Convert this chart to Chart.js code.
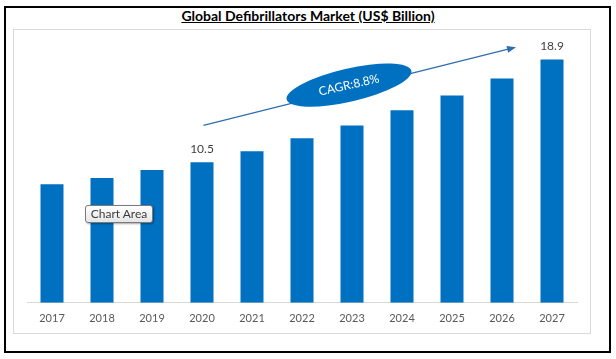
<!DOCTYPE html>
<html>
<head>
<meta charset="utf-8">
<script src="https://cdn.jsdelivr.net/npm/chart.js@4.4.0/dist/chart.umd.min.js"></script>
<style>
  body { margin: 0; background: #fff; }
  #wrap { position: relative; width: 616px; height: 359px; }
  #frame { position: absolute; left: 4px; top: 6px; width: 607px; height: 347px; border: 2px solid #000; box-sizing: border-box; }
  #inner { position: absolute; left: 13px; top: 29px; width: 578px; height: 305px; border: 1px solid #d9d9d9; box-sizing: border-box; }
  #title { position: absolute; left: 0; top: 7px; width: 616px; text-align: center; font: bold 14px Lato, sans-serif; color: #000; text-decoration: underline; }
  #chart { position: absolute; left: 0; top: 0; }
  #tip { position: absolute; left: 85px; top: 205px; width: 68px; height: 18px; box-sizing: border-box;
         border: 1px solid #7a7a7a; border-radius: 3px; background: linear-gradient(#ffffff, #e6e6e6);
         box-shadow: 1px 1px 2px rgba(0,0,0,0.35); font: 12px Lato, sans-serif; color: #3c3c3c;
         text-align: center; line-height: 16px; }
</style>
</head>
<body>
<div id="wrap">
  <div id="frame"></div>
  <div id="inner"></div>
  <div id="title">Global Defibrillators Market (US$ Billion)</div>
  <canvas id="chart" width="616" height="359"></canvas>
  <div id="tip">Chart Area</div>
</div>
<script>
'use strict';

// data
const years = ['2017', '2018', '2019', '2020', '2021', '2022', '2023', '2024', '2025', '2026', '2027'];
const marketSize = [8.7, 9.2, 9.85, 10.5, 11.4, 12.45, 13.5, 14.75, 15.95, 17.35, 18.9];
const labelledYears = ['2020', '2027'];
const cagrText = 'CAGR:8.8%';

const barBlue = '#0070c0';

// value labels above selected bars
const valueLabels = {
    id: 'valueLabels',
    afterDatasetsDraw(chart) {
        const ctx = chart.ctx;
        const meta = chart.getDatasetMeta(0);
        ctx.save();
        ctx.font = '12px Lato, sans-serif';
        ctx.fillStyle = '#404040';
        ctx.textAlign = 'center';
        ctx.textBaseline = 'middle';
        years.forEach((y, i) => {
            if (!labelledYears.includes(y)) return;
            const bar = meta.data[i];
            ctx.fillText(marketSize[i].toFixed(1), bar.x, bar.y - 13);
        });
        ctx.restore();
    }
};

// growth arrow + CAGR ellipse
const cagrArrow = {
    id: 'cagrArrow',
    afterDatasetsDraw(chart) {
        const ctx = chart.ctx;
        const xs = chart.scales.x;
        const ys = chart.scales.y;
        const x1 = xs.getPixelForValue(3.03), y1 = ys.getPixelForValue(13.5);
        const x2 = xs.getPixelForValue(9.28), y2 = ys.getPixelForValue(19.9);
        const ang = Math.atan2(y2 - y1, x2 - x1);

        ctx.save();
        ctx.strokeStyle = '#2f6db3';
        ctx.fillStyle = '#2f6db3';
        ctx.lineWidth = 1.3;
        ctx.beginPath();
        ctx.moveTo(x1, y1);
        ctx.lineTo(x2 - 6 * Math.cos(ang), y2 - 6 * Math.sin(ang));
        ctx.stroke();
        // arrow head
        ctx.translate(x2, y2);
        ctx.rotate(ang);
        ctx.beginPath();
        ctx.moveTo(0, 0);
        ctx.lineTo(-9, -3.5);
        ctx.lineTo(-9, 3.5);
        ctx.closePath();
        ctx.fill();
        ctx.restore();

        // ellipse
        const cx = xs.getPixelForValue(5.94), cy = ys.getPixelForValue(16.8);
        const rot = -13 * Math.PI / 180;
        ctx.save();
        ctx.translate(cx, cy);
        ctx.rotate(rot);
        ctx.beginPath();
        ctx.ellipse(0, 0, 64, 16.5, 0, 0, Math.PI * 2);
        ctx.fillStyle = barBlue;
        ctx.fill();
        ctx.font = '12px Lato, sans-serif';
        ctx.fillStyle = '#ffffff';
        ctx.textAlign = 'center';
        ctx.textBaseline = 'middle';
        ctx.fillText(cagrText, 0, 0);
        ctx.restore();
    }
};

new Chart(document.getElementById('chart'), {
    type: 'bar',
    data: {
        labels: years,
        datasets: [{
            data: marketSize,
            backgroundColor: barBlue,
            base: -1,
            barPercentage: 0.46,
            categoryPercentage: 1
        }]
    },
    options: {
        responsive: false,
        animation: false,
        layout: { padding: { left: 27, right: 39, top: 46, bottom: 25 } },
        plugins: { legend: { display: false }, tooltip: { enabled: false } },
        scales: {
            x: {
                grid: { display: false, drawTicks: false },
                border: { display: true, color: '#d9d9d9', width: 1 },
                ticks: { color: '#595959', font: { family: 'Lato', size: 11 }, padding: 9 }
            },
            y: {
                display: false,
                min: -1,
                max: 20
            }
        }
    },
    plugins: [valueLabels, cagrArrow]
});
</script>
</body>
</html>
